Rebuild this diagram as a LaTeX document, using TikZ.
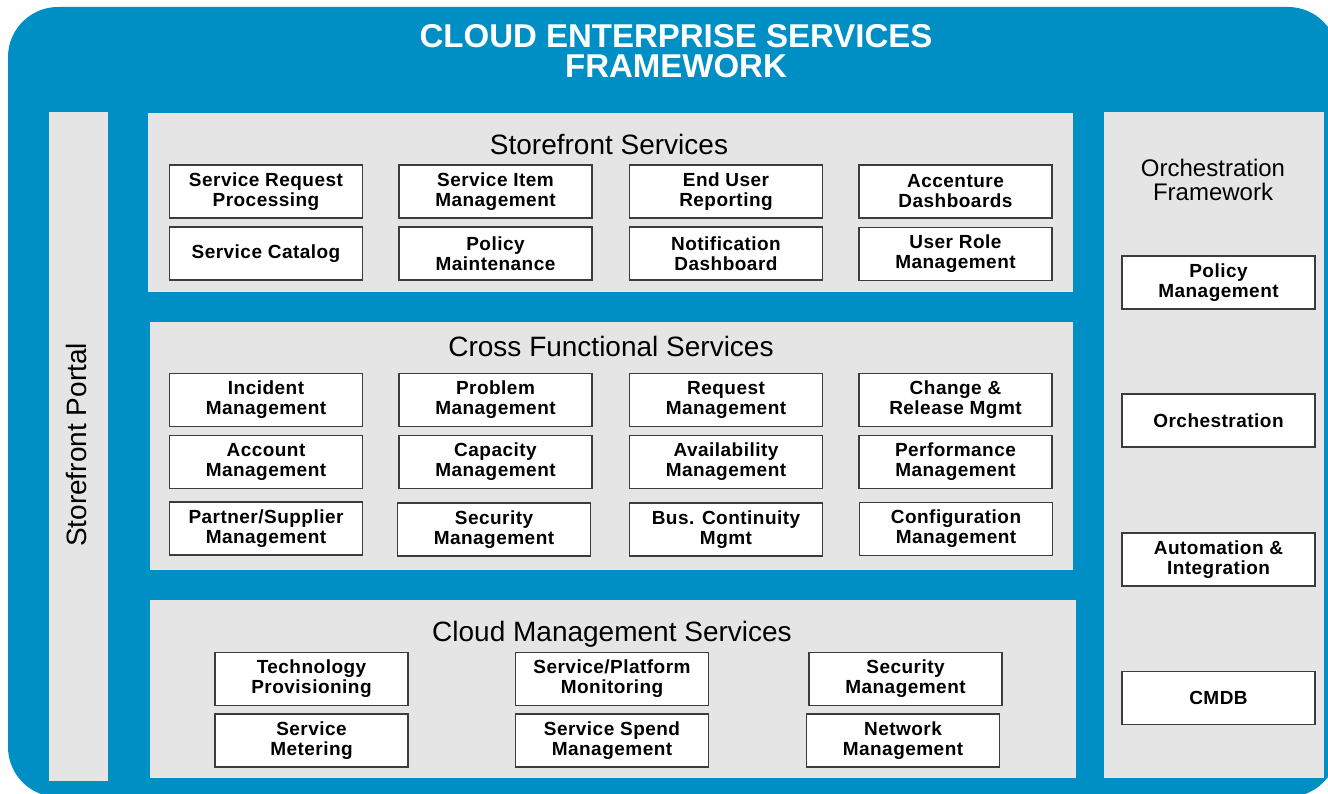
\documentclass[tikz,border=0pt]{standalone}
\usepackage{fontspec}
\setmainfont{Liberation Sans}
\newfontfamily\boxfont[LetterSpace=2.5]{Liberation Sans}
\definecolor{cblue}{RGB}{0,143,196}
\definecolor{cgray}{RGB}{229,229,229}
\definecolor{cedge}{RGB}{60,60,60}
\begin{document}
\begin{tikzpicture}[x=1pt,y=-1pt,
  sbox/.style={draw=cedge,line width=1.1pt,fill=white,minimum width=193pt,
    minimum height=53pt,inner sep=0pt,align=center,
    font=\boxfont\bfseries\fontsize{19}{20}\selectfont},
  ptitle/.style={font=\fontsize{28}{30}\selectfont,inner sep=0pt,anchor=base},
  panelfill/.style={fill=cgray}]
\useasboundingbox (0,0) rectangle (1328,794);
\fill[white] (0,0) rectangle (1328,794);
\begin{scope}
  \clip (0,0) rectangle (1328,794);
  \fill[cblue, rounded corners=50pt] (8,7) rectangle (1338,797);
\end{scope}

% title
\node[text=white, align=center, inner sep=0pt,
  font=\bfseries\fontsize{33}{30}\selectfont] (title) at (676,51)
  {CLOUD ENTERPRISE SERVICES\\FRAMEWORK};

% panels
\fill[panelfill] (49,112) rectangle (108,781);
\fill[panelfill] (148,113) rectangle (1073,292);
\fill[panelfill] (150,322) rectangle (1073,570);
\fill[panelfill] (150,600) rectangle (1076,778);
\fill[panelfill] (1104,112) rectangle (1324,778);

% panel titles
\node[ptitle] (tstore) at (609,155) {Storefront Services};
\node[ptitle] (tcross) at (611,356) {Cross Functional Services};
\node[ptitle] (tcloud) at (612,641) {Cloud Management Services};
\node[rotate=90, inner sep=0pt, font=\fontsize{28}{30}\selectfont] (tportal) at (76,445) {Storefront Portal};
\node[align=center, inner sep=0pt, font=\fontsize{24}{24.5}\selectfont] (torch) at (1213,180) {Orchestration\\Framework};

% storefront services
\node[sbox] (s11) at (266,191.5) {Service Request\\Processing};
\node[sbox] (s12) at (495.5,191.5) {Service Item\\Management};
\node[sbox] (s13) at (726,191.5) {End User\\Reporting};
\node[sbox] (s14) at (955.5,191.5) {Accenture\\Dashboards};
\node[sbox] (s21) at (266,253.5) {Service Catalog};
\node[sbox] (s22) at (495.5,253.5) {Policy\\Maintenance};
\node[sbox] (s23) at (726,253.5) {Notification\\Dashboard};
\node[sbox] (s24) at (955.5,254) {User Role\\Management};

% cross functional services
\node[sbox] (c11) at (266,400) {Incident\\Management};
\node[sbox] (c12) at (495.5,400) {Problem\\Management};
\node[sbox] (c13) at (726,400) {Request\\Management};
\node[sbox] (c14) at (955.5,400) {Change \&\\Release Mgmt};
\node[sbox] (c21) at (266,462) {Account\\Management};
\node[sbox] (c22) at (495.5,462) {Capacity\\Management};
\node[sbox] (c23) at (726,462) {Availability\\Management};
\node[sbox] (c24) at (955.5,462) {Performance\\Management};
\node[sbox] (c31) at (266,528.5) {Partner/Supplier\\Management};
\node[sbox] (c32) at (494,529.5) {Security\\Management};
\node[sbox] (c33) at (726,529.5) {Bus. Continuity\\Mgmt};
\node[sbox] (c34) at (956,529) {Configuration\\Management};

% cloud management services
\node[sbox] (m11) at (311.5,679) {Technology\\Provisioning};
\node[sbox] (m12) at (612,679) {Service/Platform\\Monitoring};
\node[sbox] (m13) at (905.5,679) {Security\\Management};
\node[sbox] (m21) at (311.5,740.5) {Service\\Metering};
\node[sbox] (m22) at (612,740.5) {Service Spend\\Management};
\node[sbox] (m23) at (903,740.5) {Network\\Management};

% orchestration framework
\node[sbox] (o1) at (1218.5,282.5) {Policy\\Management};
\node[sbox] (o2) at (1218.5,420.5) {Orchestration};
\node[sbox] (o3) at (1218.5,559.5) {Automation \&\\Integration};
\node[sbox] (o4) at (1218.5,698) {CMDB};
\end{tikzpicture}
\end{document}
